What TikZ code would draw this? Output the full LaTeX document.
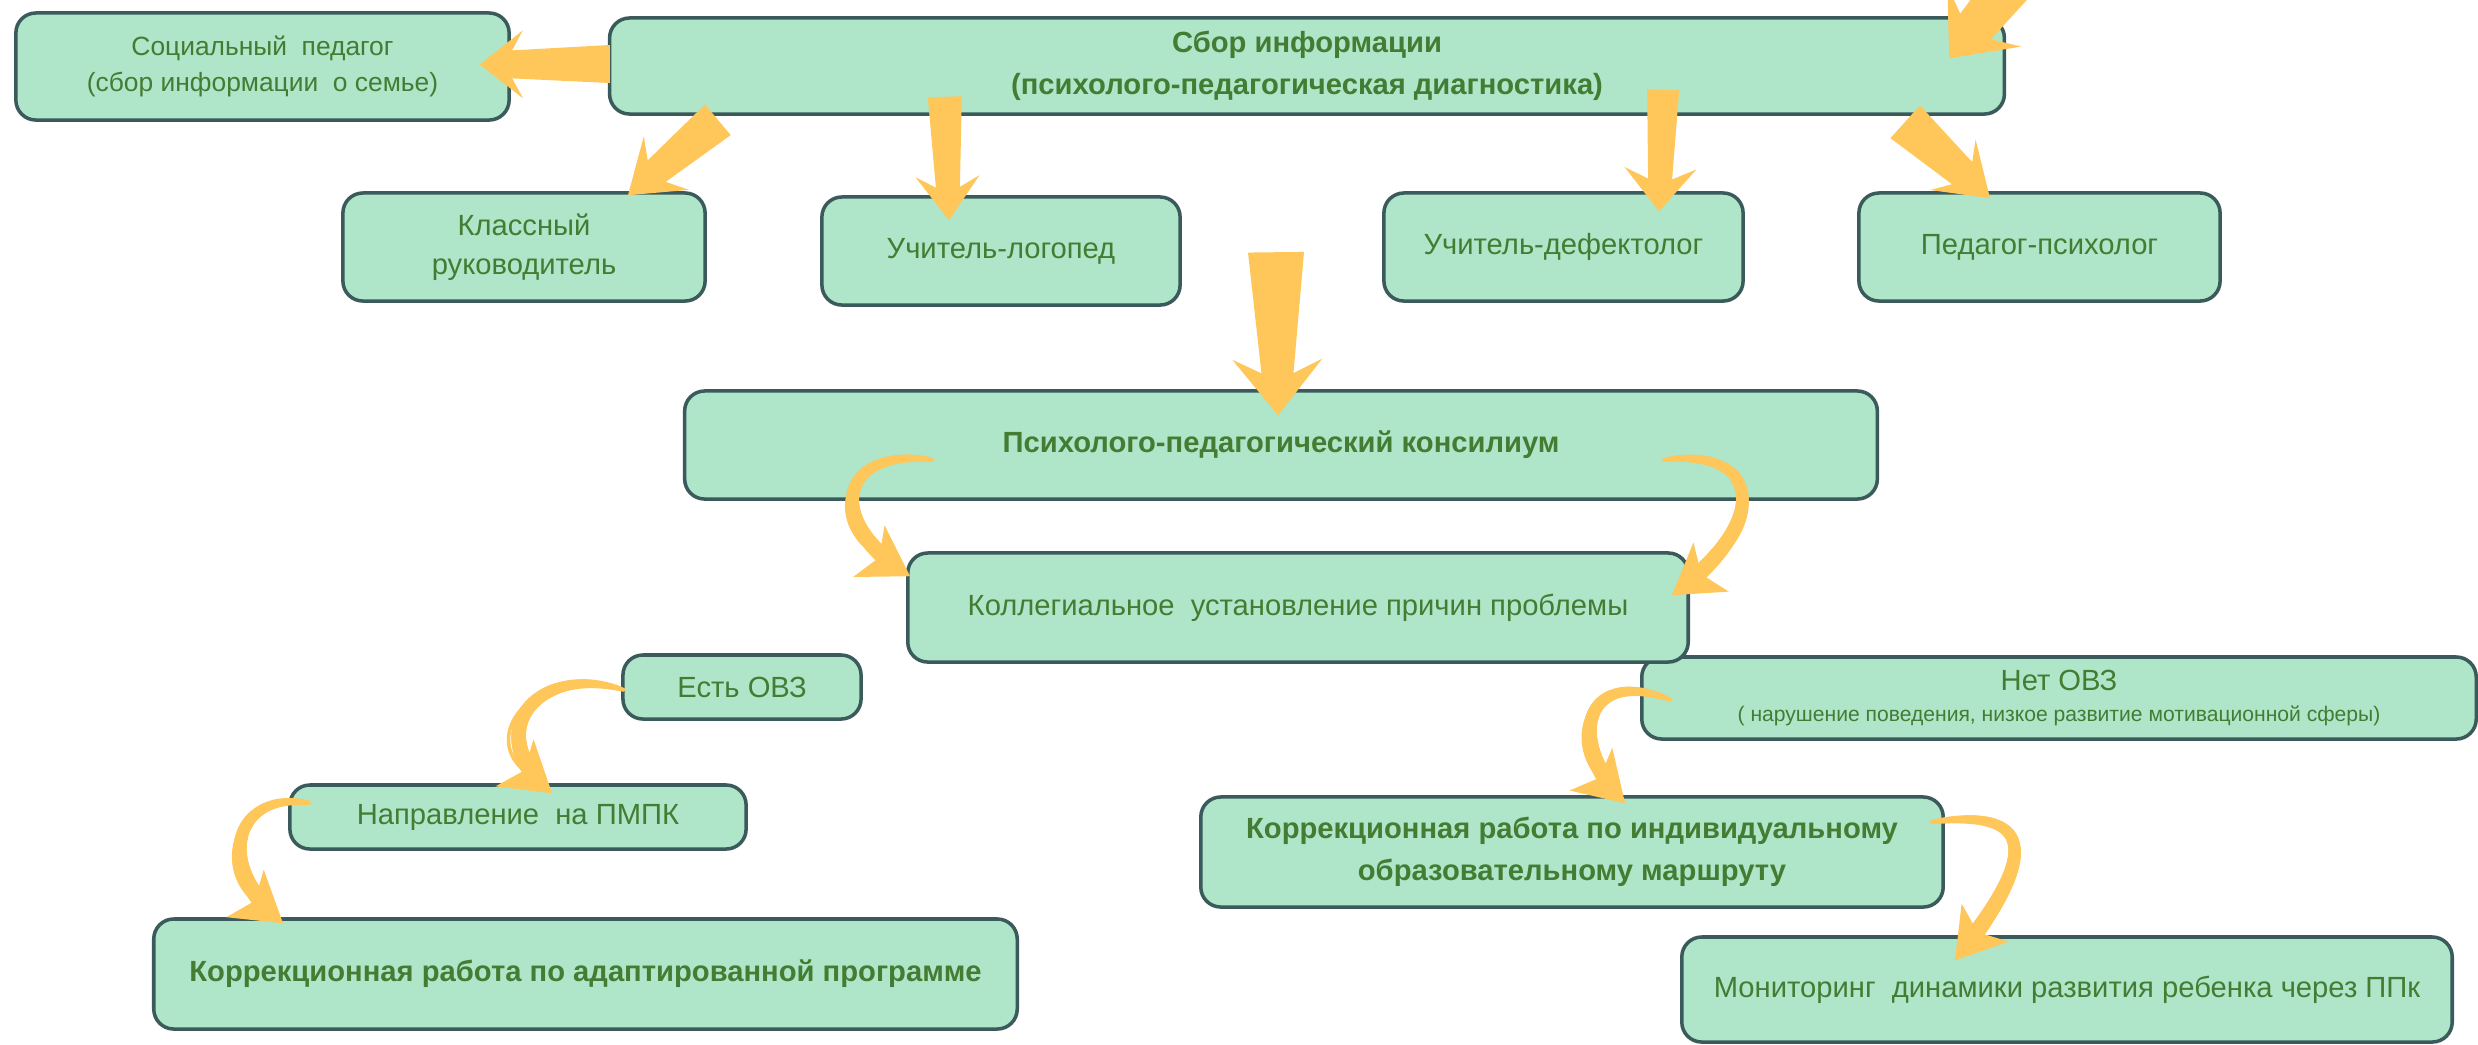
\documentclass[tikz,border=0pt]{standalone}
\usepackage{fontspec}
\setmainfont{Liberation Sans}
\usetikzlibrary{arrows.meta,calc,decorations.markings}

\definecolor{boxfill}{HTML}{AFE5C8}
\definecolor{boxline}{HTML}{3A5A5C}
\definecolor{arrowfill}{HTML}{FFC65A}
\definecolor{txtgreen}{HTML}{437C32}

\newcommand{\fatarrow}[6]{%
  \path ($(#2)!#6!(#1)$) coordinate (hb) ($(#2)!0.75*#6!(#1)$) coordinate (hj);
  \fill[arrowfill] ($(#1)!#3!90:(#2)$) -- ($(hj)!#4!90:(#2)$) -- ($(hb)!#5!90:(#2)$) -- (#2)
    -- ($(hb)!#5!-90:(#2)$) -- ($(hj)!#4!-90:(#2)$) -- ($(#1)!#3!-90:(#2)$) -- cycle;}

\tikzset{
  box/.style={draw=boxline, fill=boxfill, line width=1pt, rounded corners=0.2cm,
    align=center, text=txtgreen, inner sep=0pt, font=\fontsize{8.3}{11}\selectfont},
  boldbox/.style={box, font=\fontsize{8.3}{12}\selectfont\bfseries},
  bend arrow/.style={draw=arrowfill, line width=1pt,
    -{Stealth[length=0.48cm, width=0.6cm, inset=0.12cm]},
    postaction={decorate}, decoration={markings,
      mark=between positions 0 and -0.35cm step 0.5pt with {%
        \pgfmathsetmacro\tw{0.4+2.1*sqrt(\pgfkeysvalueof{/pgf/decoration/mark info/distance from start}/\pgfdecoratedpathlength)}%
        \fill[arrowfill] (0,0) circle (\tw pt);}}}
}

\begin{document}
\begin{tikzpicture}[x=0.01cm,y=-0.01cm]
  \useasboundingbox (0,0) rectangle (2478,1044);
  \clip (0,0) rectangle (2478,1044);

  \node (social)  [box, minimum width=4.93cm, minimum height=1.07cm, font=\fontsize{7.5}{10}\selectfont] at (262.5,66.5)
    {Социальный\ \ педагог\\(сбор информации\ \ о семье)};
  \node (sbor)    [boldbox, minimum width=13.94cm, minimum height=0.96cm] at (1307,66)
    {Сбор информации\\(психолого-педагогическая диагностика)};
  \node (klass)   [box, minimum width=3.62cm, minimum height=1.08cm] at (524,247) {Классный\\руководитель};
  \node (logoped) [box, minimum width=3.58cm, minimum height=1.08cm] at (1001,251) {Учитель-логопед};
  \node (defekt)  [box, minimum width=3.59cm, minimum height=1.08cm] at (1563.5,247) {Учитель-дефектолог};
  \node (psych)   [box, minimum width=3.61cm, minimum height=1.08cm] at (2039.5,247) {Педагог-психолог};
  \node (konsil)  [boldbox, minimum width=11.92cm, minimum height=1.08cm] at (1281,445)
    {Психолого-педагогический консилиум};
  \node (net)     [box, minimum width=8.34cm, minimum height=0.82cm] at (2059,698)
    {Нет ОВЗ\\[-2pt]{\fontsize{6}{7}\selectfont ( нарушение поведения, низкое развитие мотивационной сферы)}};
  \node (kolleg)  [box, minimum width=7.80cm, minimum height=1.09cm] at (1298,607.5)
    {Коллегиальное\ \ установление причин проблемы};
  \node (est)     [box, minimum width=2.38cm, minimum height=0.64cm] at (742,687) {Есть ОВЗ};
  \node (naprav)  [box, minimum width=4.56cm, minimum height=0.64cm] at (518,817) {Направление\ \ на ПМПК};
  \node (korrA)   [boldbox, minimum width=8.63cm, minimum height=1.10cm] at (585.5,974)
    {Коррекционная работа по адаптированной программе};
  \node (korrI)   [boldbox, minimum width=7.42cm, minimum height=1.10cm] at (1572,852)
    {Коррекционная работа по индивидуальному\\образовательному маршруту};
  \node (monit)   [box, minimum width=7.70cm, minimum height=1.05cm] at (2067,989.5)
    {Мониторинг\ \ динамики развития ребенка через ППк};

  \coordinate (a1t) at ($(sbor.west)+(2,-2)$);
  \coordinate (a1h) at ($(social.east)+(-31,-2)$);
  \coordinate (a2t) at ($(sbor.south west)+(110,4)$);
  \coordinate (a2h) at ($(klass.north)+(104,4)$);
  \coordinate (a3t) at ($(sbor.south west)+(337,-19)$);
  \coordinate (a3h) at ($(logoped.north)+(-52,25)$);
  \coordinate (a4t) at ($(sbor.south east)+(-343,-26)$);
  \coordinate (a4h) at ($(defekt.north)+(95.5,20)$);
  \coordinate (a5t) at ($(sbor.south east)+(-101,6)$);
  \coordinate (a5h) at ($(psych.north)+(-49.5,7)$);
  \coordinate (a6t) at ($(konsil.north)+(-5,-137)$);
  \coordinate (a6h) at ($(konsil.north)+(-3,26)$);
  \coordinate (a7t) at ($(sbor.north east)+(51,-88)$);
  \coordinate (a7h) at ($(sbor.north east)+(-57,42)$);

  \fatarrow{a1t}{a1h}{0.19cm}{0.14cm}{0.34cm}{0.43cm}
  \fatarrow{a2t}{a2h}{0.20cm}{0.14cm}{0.35cm}{0.50cm}
  \fatarrow{a3t}{a3h}{0.17cm}{0.12cm}{0.32cm}{0.44cm}
  \fatarrow{a4t}{a4h}{0.16cm}{0.12cm}{0.36cm}{0.43cm}
  \fatarrow{a5t}{a5h}{0.22cm}{0.15cm}{0.34cm}{0.50cm}
  \fatarrow{a6t}{a6h}{0.28cm}{0.16cm}{0.45cm}{0.56cm}
  \fatarrow{a7t}{a7h}{0.26cm}{0.20cm}{0.48cm}{0.55cm}

  \coordinate (c1s) at ($(konsil.south west)+(250,-41)$);
  \coordinate (c1h) at ($(kolleg.north west)+(4,25)$);
  \coordinate (c2s) at ($(konsil.south east)+(-216,-41)$);
  \coordinate (c2h) at ($(kolleg.north east)+(-18,44)$);
  \coordinate (c3s) at ($(est.west)+(3,3)$);
  \coordinate (c3h) at ($(naprav.north)+(34,10)$);
  \coordinate (c4s) at ($(naprav.west)+(22,-14)$);
  \coordinate (c4h) at ($(korrA.north west)+(131,6)$);
  \coordinate (c5s) at ($(net.west)+(31,2)$);
  \coordinate (c5h) at ($(korrI.north)+(53,8)$);
  \coordinate (c6s) at ($(korrI.east)+(-14,-30)$);
  \coordinate (c6h) at ($(monit.north)+(-112,25)$);

  \draw[bend arrow] (c1s) .. controls +(-95,-13) and +(-87,-53) .. (c1h);
  \draw[bend arrow] (c2s) .. controls +(99,-13) and +(100,-72) .. (c2h);
  \draw[bend arrow] (c3s) .. controls +(-86,-28) and +(-74,-60) .. (c3h);
  \draw[bend arrow] (c4s) .. controls +(-77,-13) and +(-70,-55) .. (c4h);
  \draw[bend arrow] (c5s) .. controls +(-88,-35) and +(-60,-60) .. (c5h);
  \draw[bend arrow] (c6s) .. controls +(121,-17) and +(70,-87) .. (c6h);
\end{tikzpicture}
\end{document}
